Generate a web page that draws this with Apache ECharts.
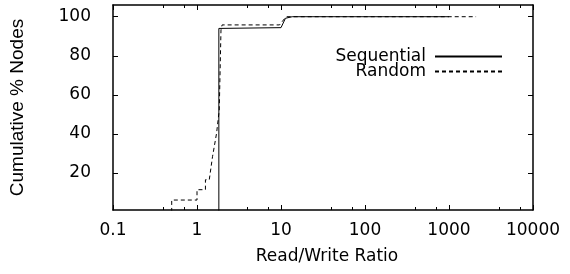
<!DOCTYPE html>
<html>
<head>
<meta charset="utf-8">
<script src="https://cdn.jsdelivr.net/npm/echarts@6/dist/echarts.min.js"></script>
<style>
  html, body { margin: 0; padding: 0; background: #fff; }
  #chart { width: 570px; height: 274px; }
</style>
</head>
<body>
<div id="chart"></div>
<script>
// read/write ratio CDF (x = ratio, y = cumulative % of nodes)
var seqX = [1.82, 1.82, 10, 11.3, 13.6, 1000];
var seqY = [0, 94, 94.4, 99.2, 100, 100];

var rndX = [0.5, 0.5, 1.0, 1.0, 1.26, 1.26, 1.40, 1.53, 1.71, 1.84, 1.93, 1.99, 9.6, 11.5, 2100];
var rndY = [0, 6.1, 6.1, 11.4, 11.4, 16.5, 16.5, 28.3, 40.3, 52.2, 93.2, 95.8, 95.8, 100, 100];

var yTicks = [20, 40, 60, 80, 100];
var seriesNames = ["Sequential", "Random"];

function pairs(xs, ys) {
  var out = [];
  for (var i = 0; i < xs.length; i++) out.push([xs[i], ys[i]]);
  return out;
}

var font = "DejaVu Sans";
var fs = 17;
var black = "#000";

var xBase = {
  type: "log",
  logBase: 10,
  min: 0.1,
  max: 10000,
  axisLine: { show: true, lineStyle: { color: black, width: 1.5 } },
  axisTick: { show: true, inside: true, length: 5, lineStyle: { color: black } },
  minorTick: { show: true, splitNumber: 3, length: 3, lineStyle: { color: black } },
  splitLine: { show: false },
  minorSplitLine: { show: false }
};

var yBase = {
  type: "value",
  min: 1,
  max: 106,
  axisLine: { show: true, lineStyle: { color: black, width: 1.5 } },
  axisTick: { show: true, inside: true, length: 5, customValues: yTicks, lineStyle: { color: black } },
  splitLine: { show: false }
};

var myChart = echarts.init(document.getElementById("chart"), null, { renderer: "canvas" });

var option = {
  animation: false,
  backgroundColor: "#fff",
  textStyle: { fontFamily: font },
  grid: { left: 113, right: 37, top: 5, bottom: 64 },
  legend: {
    data: seriesNames,
    orient: "vertical",
    align: "right",
    right: 67,
    top: 48,
    padding: 0,
    itemWidth: 67,
    itemHeight: 14,
    itemGap: -2,
    itemStyle: { opacity: 0 },
    textStyle: { fontSize: fs, color: black, fontFamily: font, padding: [0, 4, 0, 0] }
  },
  xAxis: [
    Object.assign({}, xBase, {
      position: "bottom",
      name: "Read/Write Ratio",
      nameLocation: "middle",
      nameGap: 38,
      nameTextStyle: { fontSize: fs, color: black, fontFamily: font, padding: [0, 0, 0, 8] },
      axisLabel: {
        fontSize: fs, color: black, margin: 12, fontFamily: font,
        formatter: function (v) { return String(+v.toPrecision(6)); }
      }
    }),
    Object.assign({}, xBase, {
      position: "top",
      axisLabel: { show: false }
    })
  ],
  yAxis: [
    Object.assign({}, yBase, {
      position: "left",
      name: "Cumulative % Nodes",
      nameLocation: "middle",
      nameGap: 86,
      nameTextStyle: { fontSize: 19, color: black, fontFamily: "Liberation Sans" },
      axisLabel: { fontSize: fs, color: black, margin: 22, customValues: yTicks, fontFamily: font }
    }),
    Object.assign({}, yBase, {
      position: "right",
      axisLabel: { show: false }
    })
  ],
  series: [
    {
      name: seriesNames[0],
      type: "line",
      symbol: "none",
      data: pairs(seqX, seqY),
      lineStyle: { color: black, width: 1, type: "solid" },
      itemStyle: { color: black }
    },
    {
      name: seriesNames[1],
      type: "line",
      symbol: "none",
      data: pairs(rndX, rndY),
      lineStyle: { color: black, width: 1, type: [4, 3] },
      itemStyle: { color: black }
    }
  ]
};

myChart.setOption(option);
</script>
</body>
</html>
